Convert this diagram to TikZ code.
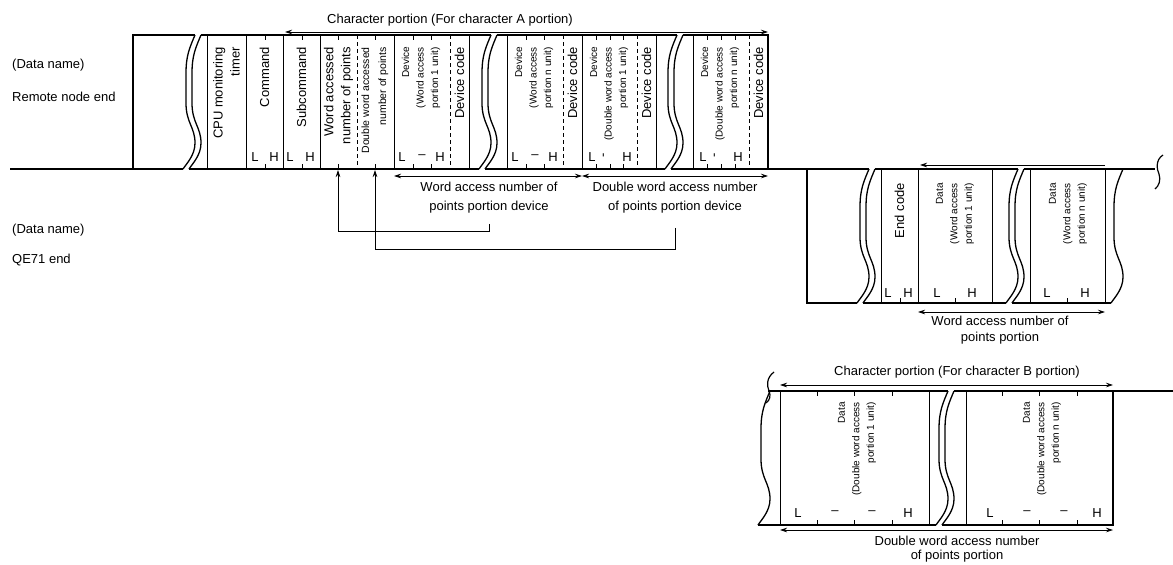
\documentclass[tikz,border=0pt]{standalone}
\usepackage{fontspec}
\setmainfont{Liberation Sans}
\usetikzlibrary{arrows.meta,calc}

\tikzset{
  frame/.style={line width=1.5pt},
  base/.style={line width=2pt},
  cell/.style={line width=0.7pt},
  cellsep/.style={line width=0.7pt, dash pattern=on 4pt off 3pt},
  tickmark/.style={line width=0.7pt},
  dim/.style={line width=0.7pt, {Stealth[length=7pt,width=4.5pt]}-{Stealth[length=7pt,width=4.5pt]}},
  conn/.style={line width=0.7pt, -{Stealth[length=7pt,width=4.5pt]}},
  vlab/.style={rotate=90, anchor=east, align=right, inner sep=0pt, font=\fontsize{13}{17}\selectfont},
  vsmall/.style={vlab, font=\fontsize{10}{14.5}\selectfont},
  lbl/.style={inner sep=0pt, font=\fontsize{13}{16}\selectfont},
  brkline/.pic={\draw[line width=1.3pt] (0,0) .. controls (-5,12) and (-9,20) .. (-9,38) -- (-9,68) .. controls (-9,88) and (0,92) .. (0,108) .. controls (0,120) and (-8,128) .. (-12,134);},
  dbrk/.pic={\pic {brkline}; \pic at (6,0) {brkline};}
}

\begin{document}
\begin{tikzpicture}[x=1pt,y=-1pt]
\useasboundingbox (0,0) rectangle (1173,565);

% ================= LEFT LABELS =================
\node[lbl, anchor=west] (dn1) at (12,65) {(Data name)};
\node[lbl, anchor=west] (remote) at (12,97) {Remote node end};
\node[lbl, anchor=west] (dn2) at (12,230) {(Data name)};
\node[lbl, anchor=west] (qe71) at (12,260) {QE71 end};

% ================= BASE LINE =================
\draw[base] (10,169) -- (183,169);
\draw[base] (189,169) -- (479,169);
\draw[base] (485,169) -- (665,169);
\draw[base] (671,169) -- (869,169);
\draw[base] (875,169) -- (1018,169);
\draw[base] (1024,169) -- (1155,169);
\draw[line width=1.2pt] (1163,155) .. controls (1155,160) and (1157,170) .. (1159,174) .. controls (1161,180) and (1159,186) .. (1155,189);

% ================= REMOTE NODE END FRAME =================
\draw[frame] (133,169) -- (133,35) -- (195,35);
\draw[frame] (201,35) -- (491,35);
\draw[frame] (497,35) -- (677,35);
\draw[frame] (683,35) -- (768,35) -- (768,169);
\pic at (195,35) {dbrk};
\pic at (491,35) {dbrk};
\pic at (677,35) {dbrk};

\foreach \x in {207,246,283,320,394,469,507,582,656,693}
  \draw[cell] (\x,35) -- (\x,169);
\foreach \x in {357,450,563,637,749}
  \draw[cellsep] (\x,35) -- (\x,169);
\foreach \x in {265,302,338,375,413,431,526,544,596,610,623,707,721,735}
  \draw[tickmark] (\x,35) -- ++(0,5) (\x,169) -- ++(0,-5);

\node[vlab] (cpu) at (226.5,47) {CPU monitoring\\timer};
\node[vlab] (cmd) at (264.5,47) {Command};
\node[vlab] (subcmd) at (301.5,47) {Subcommand};
\node[vlab] (wpts) at (338.5,47) {Word accessed\\number of points};
\node[vlab, font=\fontsize{10.5}{17}\selectfont] (dpts) at (375,47) {Double word accessed\\number of points};
\node[vsmall] (dev1) at (421,47) {Device\\(Word access\\portion 1 unit)};
\node[vlab] (code1) at (459.5,47) {Device code};
\node[vsmall] (dev2) at (534,47) {Device\\(Word access\\portion n unit)};
\node[vlab] (code2) at (572.5,47) {Device code};
\node[vsmall] (dev3) at (609,47) {Device\\(Double word access\\portion 1 unit)};
\node[vlab] (code3) at (646.5,47) {Device code};
\node[vsmall] (dev4) at (720,47) {Device\\(Double word access\\portion n unit)};
\node[vlab] (code4) at (758.5,47) {Device code};

\foreach \x/\t [count=\i] in {255/L,274/H,290/L,310/H,402/L,422/–,440/H,515/L,535/–,553/H,592/L,627/H,703/L,738/H}
  \node[lbl] (rlh\i) at (\x,157) {\t};
\node[lbl, rotate=90] (rdash1) at (605,155) {-};
\node[lbl, rotate=90] (rdash2) at (716,155) {-};

% ================= REMOTE DIMENSIONS =================
\coordinate (caL) at (285,32);
\coordinate (caR) at (768,32);
\draw[dim] (caL) -- (caR);
\node[lbl] (chA) at (450,20) {Character portion (For character A portion)};

\coordinate (wdL) at (394,176);
\coordinate (wdM) at (582,176);
\coordinate (wdR) at (768,176);
\draw[dim] (wdL) -- (wdM);
\draw[dim] (wdM) -- (wdR);
\node[lbl, align=center, font=\fontsize{13}{19}\selectfont] (wdtxt) at (489,198) {Word access number of\\points portion device};
\node[lbl, align=center, font=\fontsize{13}{19}\selectfont] (ddtxt) at (675,198) {Double word access number\\of points portion device};

\coordinate (wn) at (338,170);
\coordinate (dn) at (375,170);
\draw[conn] (wdtxt.south) ++(0,10) -- ++(0,8) -| (wn);
\draw[conn] (ddtxt.south) ++(0,14) -- ++(0,22) -| (dn);

% ================= QE71 END FRAME =================
\draw[frame] (857,303) -- (807,303) -- (807,169);
\draw[frame] (863,303) -- (1006,303);
\draw[frame] (1012,303) -- (1111,303);
\pic at (869,169) {dbrk};
\pic at (1018,169) {dbrk};
\pic at (1123,169) {brkline};

\foreach \x in {881,918,992,1030,1105}
  \draw[cell] (\x,169) -- (\x,303);
\foreach \x in {900,955,1067}
  \draw[tickmark] (\x,303) -- ++(0,-5);

\node[vlab] (endcode) at (899.5,183) {End code};
\node[vsmall] (data1) at (955,183) {Data\\(Word access\\portion 1 unit)};
\node[vsmall] (datan) at (1068,183) {Data\\(Word access\\portion n unit)};
\foreach \x/\t [count=\i] in {888/L,908/H,937/L,972/H,1047/L,1085/H}
  \node[lbl] (qlh\i) at (\x,293) {\t};

\coordinate (qtR) at (1105,165);
\coordinate (qtL) at (920,165);
\draw[conn] (qtR) -- (qtL);

\coordinate (qbL) at (918,312);
\coordinate (qbR) at (1105,312);
\draw[dim] (qbL) -- (qbR);
\node[lbl, align=center] (qbtxt) at (1000,330) {Word access number of\\points portion};

% ================= CHARACTER B PORTION =================
\draw[line width=1.2pt] (774,372) .. controls (766,378) and (767,386) .. (769,391) .. controls (771,396) and (770,400) .. (766,403);
\draw[frame] (768,391) -- (948,391);
\draw[frame] (954,391) -- (1173,391);
\draw[frame] (758,525) -- (936,525);
\draw[frame] (942,525) -- (1113,525) -- (1113,391);
\pic at (770,391) {brkline};
\pic at (948,391) {dbrk};

\foreach \x in {780,929,966}
  \draw[cell] (\x,391) -- (\x,525);
\foreach \x in {817,854,892,1002,1039,1077}
  \draw[tickmark] (\x,391) -- ++(0,5) (\x,525) -- ++(0,-5);

\node[vsmall] (ddata1) at (857,402) {Data\\(Double word access\\portion 1 unit)};
\node[vsmall] (ddatan) at (1042,402) {Data\\(Double word access\\portion n unit)};
\foreach \x/\t [count=\i] in {798/L,835/–,872/–,908/H,990/L,1027/–,1064/–,1097/H}
  \node[lbl] (blh\i) at (\x,513) {\t};

\coordinate (cbL) at (780,385);
\coordinate (cbR) at (1113,385);
\draw[dim] (cbL) -- (cbR);
\node[lbl] (chB) at (957,372) {Character portion (For character B portion)};

\coordinate (bbL) at (780,530);
\coordinate (bbR) at (1113,530);
\draw[dim] (bbL) -- (bbR);
\node[lbl, align=center, font=\fontsize{13}{14}\selectfont] (bbtxt) at (957,549) {Double word access number\\of points portion};

\end{tikzpicture}
\end{document}
